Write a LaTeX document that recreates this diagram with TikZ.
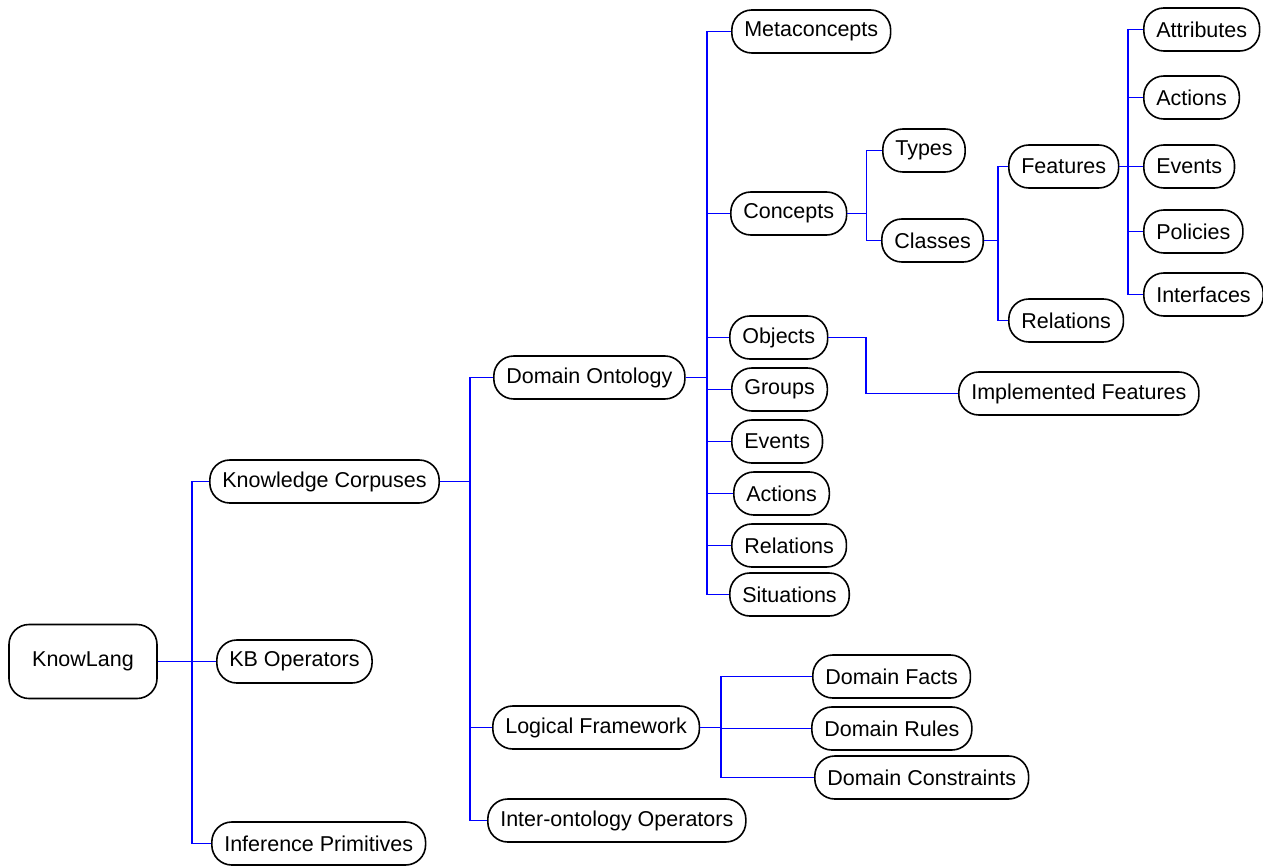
\documentclass[tikz,border=0pt]{standalone}
\usepackage{fontspec}
\setmainfont{Liberation Sans}
\usepackage{tikz}
\usetikzlibrary{calc}

\tikzset{
  box/.style={draw, thick, rounded corners=10pt, inner xsep=6.25pt, inner ysep=0pt,
    minimum height=21.5pt, font=\fontsize{10.75}{12}\selectfont, anchor=west},
  link/.style={draw=blue, line width=0.7pt}
}

\begin{document}
\begin{tikzpicture}[x=0.5pt, y=-0.5pt]
        \useasboundingbox (0,0) rectangle (1263,866);
        % bars of the tree
        \coordinate (b1) at (192,0);
        \coordinate (b2) at (470,0);
        \coordinate (b3) at (707,0);
        \coordinate (b4) at (866.5,0);
        \coordinate (b5) at (998,0);
        \coordinate (b6) at (1128,0);
        \coordinate (b7) at (721,0);
        \coordinate (b8) at (866,0);
        % nodes
        \node[box, anchor=center, minimum width=74pt, minimum height=37pt] (kl) at (83,661.5) {KnowLang};
        \node[box] (kc) at (209,481.5) {Knowledge Corpuses};
        \node[box] (kb) at (216,661.5) {KB Operators};
        \node[box] (ip) at (211,843.5) {Inference Primitives};
        \node[box] (do) at (493,377.5) {Domain Ontology};
        \node[box] (lf) at (492,727.5) {Logical Framework};
        \node[box] (io) at (487,820.5) {Inter-ontology Operators};
        \node[box] (mc) at (731,31.5) {Metaconcepts};
        \node[box] (co) at (730,213.5) {Concepts};
        \node[box] (ob) at (729,337.5) {Objects};
        \node[box] (gr) at (731,389.5) {Groups};
        \node[box] (ev) at (731,441.5) {Events};
        \node[box] (ac) at (733,493.5) {Actions};
        \node[box] (re) at (731,545.5) {Relations};
        \node[box] (si) at (729,594.5) {Situations};
        \node[box] (ty) at (882,150.5) {Types};
        \node[box] (cl) at (881,240.5) {Classes};
        \node[box] (fe) at (1008,166.5) {Features};
        \node[box] (rl) at (1008,320.5) {Relations};
        \node[box] (at) at (1143,29.5) {Attributes};
        \node[box] (an) at (1143,97.5) {Actions};
        \node[box] (ev2) at (1143,166.5) {Events};
        \node[box] (po) at (1143,231.5) {Policies};
        \node[box] (in) at (1143,294.5) {Interfaces};
        \node[box] (if) at (958,393.5) {Implemented Features};
        \node[box] (df) at (812,676.5) {Domain Facts};
        \node[box] (dr) at (811,728.5) {Domain Rules};
        \node[box] (dc) at (814,777.5) {Domain Constraints};
        % connectors
        \draw[link] (kl.east) -- (kl.east -| b1) |- (kc.west);
        \draw[link] (kl.east) -- (kl.east -| b1) |- (kb.west);
        \draw[link] (kl.east) -- (kl.east -| b1) |- (ip.west);
        \draw[link] (kc.east) -- (kc.east -| b2) |- (do.west);
        \draw[link] (kc.east) -- (kc.east -| b2) |- (lf.west);
        \draw[link] (kc.east) -- (kc.east -| b2) |- (io.west);
        \draw[link] (do.east) -- (do.east -| b3) |- (mc.west);
        \draw[link] (do.east) -- (do.east -| b3) |- (co.west);
        \draw[link] (do.east) -- (do.east -| b3) |- (ob.west);
        \draw[link] (do.east) -- (do.east -| b3) |- (gr.west);
        \draw[link] (do.east) -- (do.east -| b3) |- (ev.west);
        \draw[link] (do.east) -- (do.east -| b3) |- (ac.west);
        \draw[link] (do.east) -- (do.east -| b3) |- (re.west);
        \draw[link] (do.east) -- (do.east -| b3) |- (si.west);
        \draw[link] (co.east) -- (co.east -| b4) |- (ty.west);
        \draw[link] (co.east) -- (co.east -| b4) |- (cl.west);
        \draw[link] (cl.east) -- (cl.east -| b5) |- (fe.west);
        \draw[link] (cl.east) -- (cl.east -| b5) |- (rl.west);
        \draw[link] (fe.east) -- (fe.east -| b6) |- (at.west);
        \draw[link] (fe.east) -- (fe.east -| b6) |- (an.west);
        \draw[link] (fe.east) -- (fe.east -| b6) |- (ev2.west);
        \draw[link] (fe.east) -- (fe.east -| b6) |- (po.west);
        \draw[link] (fe.east) -- (fe.east -| b6) |- (in.west);
        \draw[link] (ob.east) -- (ob.east -| b8) |- (if.west);
        \draw[link] (lf.east) -- (lf.east -| b7) |- (df.west);
        \draw[link] (lf.east) -- (lf.east -| b7) |- (dr.west);
        \draw[link] (lf.east) -- (lf.east -| b7) |- (dc.west);
    \end{tikzpicture}
\end{document}
